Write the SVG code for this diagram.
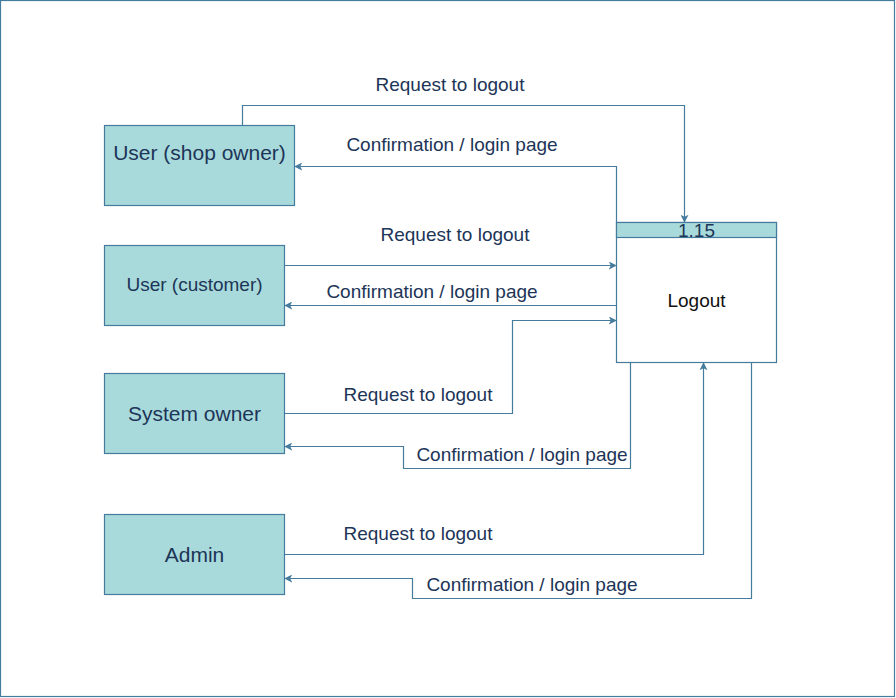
<svg xmlns="http://www.w3.org/2000/svg" width="896" height="698" viewBox="0 0 896 698">
<defs>
<style>
.ent{fill:#A8DADC;stroke:#457B9D;stroke-width:1.2}
.proc{fill:#FFFFFF;stroke:#457B9D;stroke-width:1.2}
.t{font-family:"Liberation Sans",Arial,sans-serif;fill:#1D3557;text-anchor:middle}
.l{font-family:"Liberation Sans",Arial,sans-serif;fill:#1D3557;font-size:19px;text-anchor:middle}
.c{fill:none;stroke:#457B9D;stroke-width:1.2;marker-end:url(#a)}
</style>
<marker id="a" viewBox="0 0 10 10" refX="9" refY="5" markerWidth="8" markerHeight="8" markerUnits="userSpaceOnUse" orient="auto">
<path d="M0,0 L10,5 L0,10 L2.5,5 Z" fill="#457B9D"/>
</marker>
</defs>
<rect x="0.5" y="0.5" width="894" height="696" fill="#FFFFFF" stroke="#457B9D" stroke-width="1.2"/>
<g id="shop-owner"><rect class="ent" x="104.5" y="125.5" width="190" height="80"/><text class="t" x="199.5" y="160" font-size="21">User (shop owner)</text></g>
<g id="customer"><rect class="ent" x="104.5" y="245.5" width="180" height="80"/><text class="t" x="194.5" y="291" font-size="19">User (customer)</text></g>
<g id="system-owner"><rect class="ent" x="104.5" y="373.5" width="180" height="80"/><text class="t" x="194.5" y="421" font-size="21">System owner</text></g>
<g id="admin"><rect class="ent" x="104.5" y="514.5" width="180" height="80"/><text class="t" x="194.5" y="562" font-size="21">Admin</text></g>
<g id="logout"><rect class="proc" x="616.5" y="222.5" width="160" height="140"/><rect class="ent" x="616.5" y="222.5" width="160" height="15"/><text class="t" x="696.5" y="236.5" font-size="19">1.15</text><text x="696.5" y="306.5" font-family="'Liberation Sans',Arial,sans-serif" font-size="19" fill="#111111" text-anchor="middle">Logout</text></g>
<g id="connectors">
<path class="c" d="M242.5,125 V105.5 H684.5 V222"/>
<path class="c" d="M616.5,222 V166.5 H295"/>
<path class="c" d="M285,265.5 H616"/>
<path class="c" d="M616.5,305.5 H285"/>
<path class="c" d="M285,413.5 H512.5 V320.5 H616"/>
<path class="c" d="M630.5,363 V468.5 H403.5 V446.5 H285"/>
<path class="c" d="M285,554.5 H703.5 V363"/>
<path class="c" d="M751.5,363 V598.5 H412.5 V578.5 H285"/>
<text class="l" x="450" y="91">Request to logout</text>
<text class="l" x="452" y="151">Confirmation / login page</text>
<text class="l" x="455" y="241">Request to logout</text>
<text class="l" x="432" y="298">Confirmation / login page</text>
<text class="l" x="418" y="401">Request to logout</text>
<text class="l" x="522" y="461">Confirmation / login page</text>
<text class="l" x="418" y="540">Request to logout</text>
<text class="l" x="532" y="591">Confirmation / login page</text>
</g>
</svg>
